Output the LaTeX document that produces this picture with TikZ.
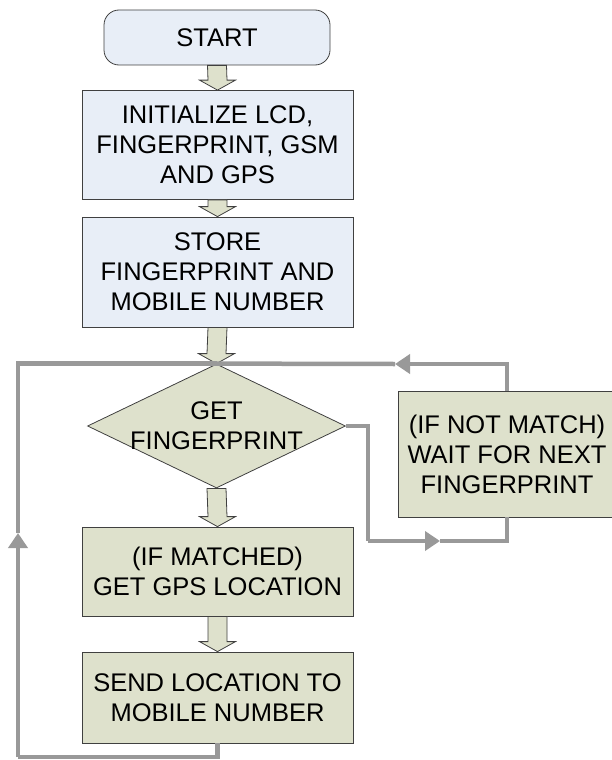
\documentclass[tikz,border=0pt]{standalone}
\usepackage{fontspec}
\setmainfont{Liberation Sans}
\usetikzlibrary{shapes.geometric,arrows.meta,calc}

\definecolor{boxblue}{HTML}{E8EEF7}
\definecolor{boxgreen}{HTML}{DEE1CC}
\definecolor{linegray}{HTML}{999999}
\definecolor{edgegray}{HTML}{404040}

\newcommand{\fatarrow}[2]{%
  \draw[fat] ($(#1.south)+(-9.5,0)$) -- ($(#2.north)+(-9.5,-10)$) -- ($(#2.north)+(-18,-10)$) -- (#2.north) -- ($(#2.north)+(18,-10)$) -- ($(#2.north)+(9.5,-10)$) -- ($(#1.south)+(9.5,0)$) -- cycle;}

\begin{document}
\begin{tikzpicture}[x=1pt, y=-1pt, font=\fontsize{25.5}{30}\selectfont,
    box/.style={draw=edgegray, line width=0.8pt, fill=boxgreen, align=center, inner sep=2pt, minimum width=271},
    bluebox/.style={box, fill=boxblue},
    fat/.style={draw=edgegray, line width=0.8pt, fill=boxgreen},
    conn/.style={draw=linegray, line width=4.5pt},
    headend/.style={-{Triangle[length=15pt,width=19pt]}}]
    \useasboundingbox (0,0) rectangle (611,760);

    \node[bluebox, rounded corners=15pt, minimum width=226, minimum height=55] (start) at (217,37.5) {START};
    \node[bluebox, minimum height=109] (init) at (217.5,145) {INITIALIZE LCD,\\FINGERPRINT, GSM\\AND GPS};
    \node[bluebox, minimum height=110] (store) at (217.5,272) {STORE\\FINGERPRINT AND\\MOBILE NUMBER};
    \node[diamond, draw=edgegray, line width=0.8pt, fill=boxgreen, inner sep=0, minimum width=258, minimum height=124] (get) at (216.5,426) {};
    \node[align=center] (gettext) at (get) {GET\\FINGERPRINT};
    \node[box, minimum height=89] (match) at (217.5,571.5) {(IF MATCHED)\\GET GPS LOCATION};
    \node[box, minimum height=91] (send) at (217.5,697.5) {SEND LOCATION TO\\MOBILE NUMBER};
    \node[box, minimum width=218, minimum height=126] (wait) at (507,454) {(IF NOT MATCH)\\WAIT FOR NEXT\\FINGERPRINT};

    \fatarrow{start}{init}
    \fatarrow{init}{store}
    \fatarrow{store}{get}
    \fatarrow{get}{match}
    \fatarrow{match}{send}

    \coordinate (tipT) at (395,364);
    \coordinate (rb) at (368,541);
    \coordinate (tipR) at (440,541);
    \coordinate (lb) at (18,757);
    \coordinate (tipL) at (18,533);
    \draw[conn, headend] (wait.north) |- (tipT);
    \draw[conn] (tipT) -- (get.north);
    \draw[conn] (get.east) -| (rb);
    \draw[conn, headend] (rb) -- (tipR);
    \draw[conn] (tipR) -| (wait.south);
    \draw[conn] (send.south) |- (lb);
    \draw[conn, headend] (lb) -- (tipL);
    \draw[conn] (tipL) |- (get.north);
\end{tikzpicture}
\end{document}
